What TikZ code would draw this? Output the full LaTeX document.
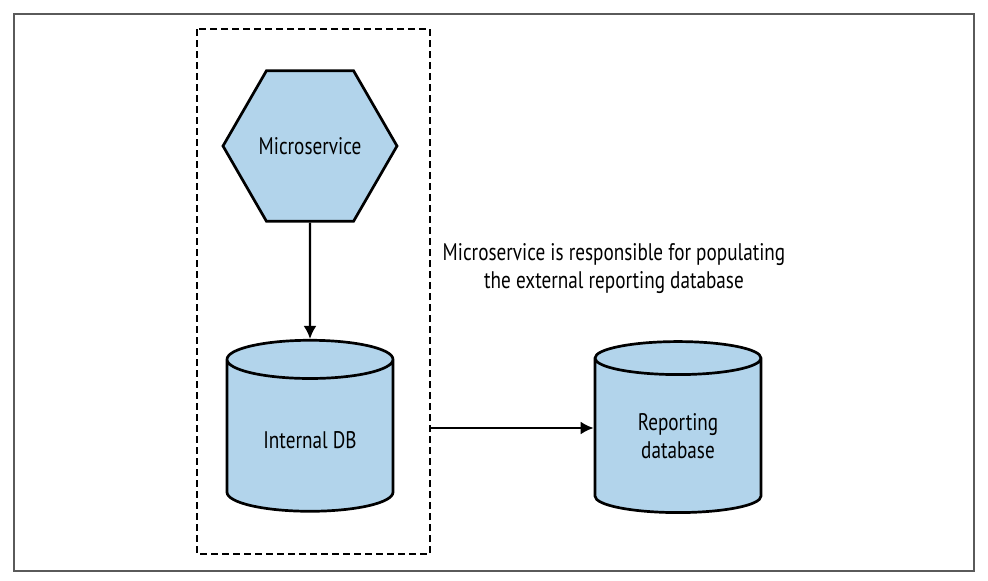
\documentclass[tikz,border=0pt]{standalone}
\usepackage{fontspec}
\setmainfont{PT Sans}[FakeStretch=0.8]
\usetikzlibrary{arrows.meta,positioning,shapes.geometric}

\definecolor{dbblue}{RGB}{178,212,235}
\definecolor{framegray}{RGB}{90,90,90}

\begin{document}
\begin{tikzpicture}
      [x=1pt, y=-1pt, line join=miter,
      >={Latex[length=13pt,width=13pt]},
      every node/.style={font=\fontsize{24}{28}\selectfont},
      hexbox/.style={regular polygon, regular polygon sides=6, draw,
        line width=2.7pt, fill=dbblue, minimum size=174pt, inner sep=0pt},
      dbstore/.style={cylinder, shape border rotate=90, draw, line width=2.7pt,
        fill=dbblue, minimum width=166pt, minimum height=171pt, aspect=0.41,
        align=center, inner sep=0pt},
      link/.style={->, line width=2.3pt},
      boundary/.style={draw, dashed, dash pattern=on 7pt off 4pt, line width=1.3pt}]

      \useasboundingbox (0,0) rectangle (988,581);
      \draw [framegray, line width=1.6pt] (14,14) rectangle (974,571);
      \draw [boundary] (197,29) rectangle (430,554);

      \node [hexbox] (M) at (310,146) {Microservice};
      \node [dbstore, text height=26pt] (I) at (310,436) {Internal DB};
      \node [dbstore] (R) at (678,436) {Reporting\\database};
      \node [align=center] (N) at (614,269)
        {Microservice is responsible for populating\\the external reporting database};

      \draw [link] (M.south) -- (I.top);
      \draw [link] (430,428) -- (R.west |- 0,428);
    \end{tikzpicture}
\end{document}
